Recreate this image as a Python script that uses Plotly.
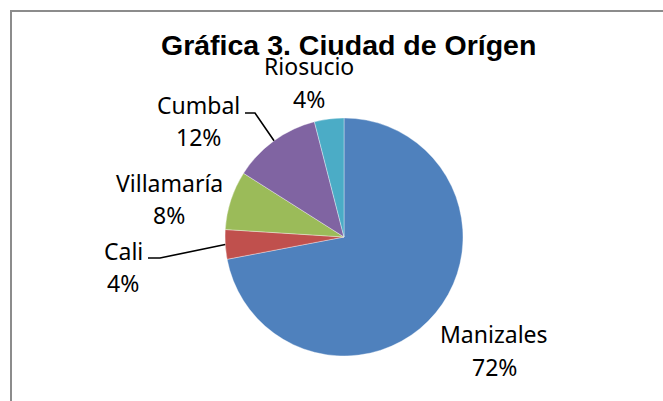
import math
import plotly.graph_objects as go

# ---- data ----
categories = ["Manizales", "Cali", "Villamaría", "Cumbal", "Riosucio"]
values = [72, 4, 8, 12, 4]
colors = ["#4F81BD", "#C0504D", "#9BBB59", "#8064A2", "#4BACC6"]
title_text = "Gráfica 3. Ciudad de Orígen"

# ---- layout geometry (pixels) ----
W, H = 663, 401
CX, CY, R = 344, 237, 119

# label placement: center x, baseline of name, baseline of percent
label_pos = {
    "Manizales": (494, 343, 376),
    "Cali": (123, 260, 292),
    "Villamaría": (169, 192, 224),
    "Cumbal": (198, 114, 146),
    "Riosucio": (309, 75, 108),
}
# leader lines: start x, elbow x, y of horizontal part
leaders = {
    "Cumbal": (245, 255, 113),
    "Cali": (148, 160, 258),
}

LABEL_FONT = dict(family="Noto Sans", size=23, color="#000000")


def px(x):
    return x / W


def py(y):
    return 1 - y / H


fig = go.Figure(
    go.Pie(
        labels=categories,
        values=values,
        sort=False,
        direction="clockwise",
        rotation=0,
        marker=dict(colors=colors, line=dict(color="rgba(255,255,255,0.6)", width=0.6)),
        textinfo="none",
        hoverinfo="label+percent",
        showlegend=False,
        domain=dict(x=[px(CX - R), px(CX + R)], y=[py(CY + R), py(CY - R)]),
    )
)

total = sum(values)
annotations = []
shapes = []

# slice mid-angles (clockwise from 12 o'clock)
cum = 0.0
mid_angle = {}
for c, v in zip(categories, values):
    a0 = cum / total * 360
    cum += v
    a1 = cum / total * 360
    mid_angle[c] = math.radians((a0 + a1) / 2)

for c, v in zip(categories, values):
    cx, b1, b2 = label_pos[c]
    pct = f"{round(v / total * 100)}%"
    for txt, base in ((c, b1), (pct, b2)):
        annotations.append(dict(
            text=txt, x=px(cx), y=py(base - 9), xref="paper", yref="paper",
            xanchor="center", yanchor="middle", showarrow=False, font=LABEL_FONT,
        ))

for c, (x0, xe, yh) in leaders.items():
    a = mid_angle[c]
    ex = CX + R * math.sin(a)
    ey = CY - R * math.cos(a)
    path = f"M {px(x0)} {py(yh)} L {px(xe)} {py(yh)} L {px(ex)} {py(ey)}"
    shapes.append(dict(type="path", path=path, xref="paper", yref="paper",
                       line=dict(color="#000000", width=1.6)))

# chart border (only left/top visible in the crop)
shapes.append(dict(type="rect", xref="paper", yref="paper",
                   x0=px(11), x1=1.2, y0=-0.2, y1=py(11),
                   line=dict(color="#8C8C8C", width=2), fillcolor="rgba(0,0,0,0)"))

# title
annotations.append(dict(
    text=f"<b>{title_text}</b>", x=px(348.5), y=py(45.5), xref="paper", yref="paper",
    xanchor="center", yanchor="middle", showarrow=False,
    font=dict(family="Liberation Sans", size=28.5, color="#000000"),
))

fig.update_layout(
    width=W, height=H,
    margin=dict(l=0, r=0, t=0, b=0),
    paper_bgcolor="#FFFFFF", plot_bgcolor="#FFFFFF",
    annotations=annotations, shapes=shapes, showlegend=False,
)

fig.write_html("out.html", config={"displayModeBar": False},
               post_script="document.body.style.margin='0';")
